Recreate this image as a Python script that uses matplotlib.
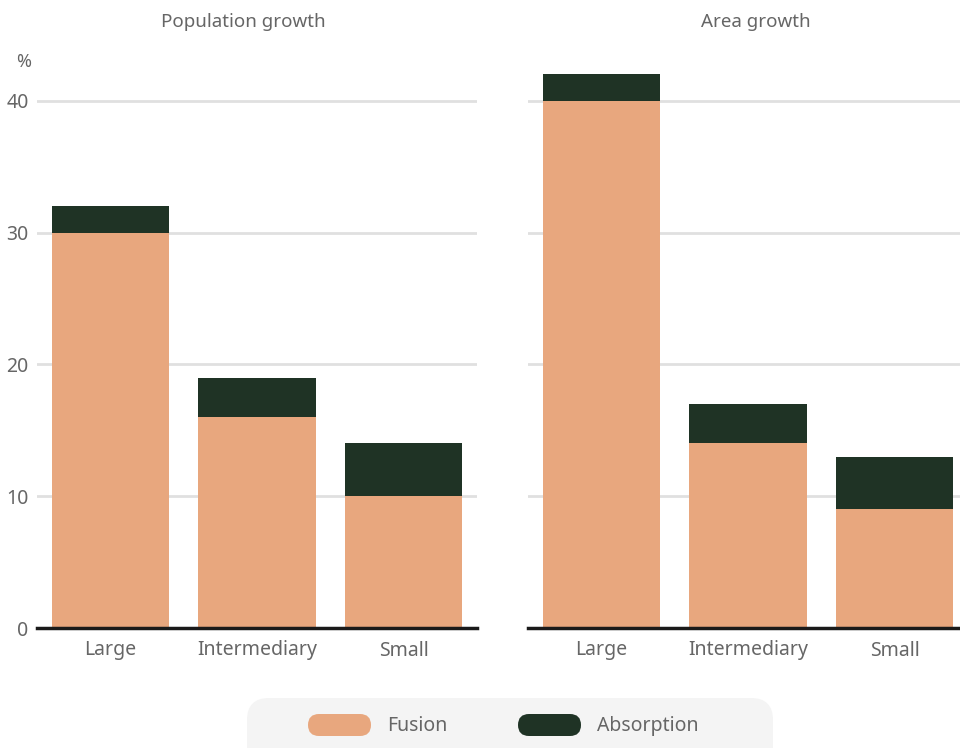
import matplotlib
matplotlib.use("Agg")
import matplotlib.pyplot as plt
from matplotlib.patches import FancyBboxPatch
import numpy as np

plt.rcParams['font.family'] = ['Noto Sans', 'DejaVu Sans']

categories = ["Large", "Intermediary", "Small"]
panels = ["Population growth", "Area growth"]
fusion = {"Population growth": [30, 16, 10], "Area growth": [40, 14, 9]}
absorption = {"Population growth": [2, 3, 4], "Area growth": [2, 3, 4]}
series_names = ["Fusion", "Absorption"]
yticks = [0, 10, 20, 30, 40]

FUSION_COLOR = "#E8A77E"
ABSORB_COLOR = "#1F3325"
TEXT_COLOR = "#666666"
GRID_COLOR = "#E0E0E0"

W, H = 960, 748
fig = plt.figure(figsize=(W / 100, H / 100), dpi=100)

def px_axes(x0, x1, y_top, y_bot):
    return fig.add_axes([x0 / W, 1 - y_bot / H, (x1 - x0) / W, (y_bot - y_top) / H])

axes = [px_axes(37, 477, 48, 628), px_axes(528, 968, 48, 628)]
title_x = [243, 756]

x = np.arange(len(categories))
for i, (ax, name) in enumerate(zip(axes, panels)):
    f = fusion[name]
    a = absorption[name]
    ax.bar(x, f, width=0.8, color=FUSION_COLOR, zorder=2)
    ax.bar(x, a, width=0.8, bottom=f, color=ABSORB_COLOR, zorder=2)
    ax.set_xlim(-0.5, 2.5)
    ax.set_ylim(0, 44)
    ax.set_yticks(yticks)
    ax.set_xticks(x)
    ax.set_xticklabels(categories)
    ax.tick_params(axis='x', length=0, pad=9, labelsize=14, labelcolor=TEXT_COLOR)
    ax.tick_params(axis='y', length=0, pad=6, labelsize=14, labelcolor=TEXT_COLOR)
    if i > 0:
        ax.set_yticklabels([])
    ax.grid(axis='y', color=GRID_COLOR, linewidth=2, zorder=0)
    for s in ['top', 'right', 'left']:
        ax.spines[s].set_visible(False)
    ax.spines['bottom'].set_linewidth(2.5)
    ax.spines['bottom'].set_color("#1a1a1a")
    ax.spines['bottom'].set_zorder(3)

# titles, "%" label and legend drawn in pixel space
over = fig.add_axes([0, 0, 1, 1], zorder=5)
over.set_xlim(0, W)
over.set_ylim(H, 0)
over.axis('off')
over.patch.set_alpha(0)

for tx, name in zip(title_x, panels):
    over.text(tx, 22, name, fontsize=13.5, color=TEXT_COLOR, ha='center', va='center')
over.text(31, 62, "%", fontsize=13, color=TEXT_COLOR, ha='right', va='center')

over.add_patch(FancyBboxPatch((247, 698), 526, 80,
                              boxstyle="round,pad=0,rounding_size=22",
                              facecolor="#F4F4F4", edgecolor="none"))
for (x0, label), color in zip([(308, series_names[0]), (518, series_names[1])],
                              [FUSION_COLOR, ABSORB_COLOR]):
    over.add_patch(FancyBboxPatch((x0, 714), 63, 22,
                                  boxstyle="round,pad=0,rounding_size=11",
                                  facecolor=color, edgecolor="none"))
    over.text(x0 + 79, 726, label, fontsize=14, color=TEXT_COLOR,
              ha='left', va='center')

fig.savefig("out.png", dpi=100)
